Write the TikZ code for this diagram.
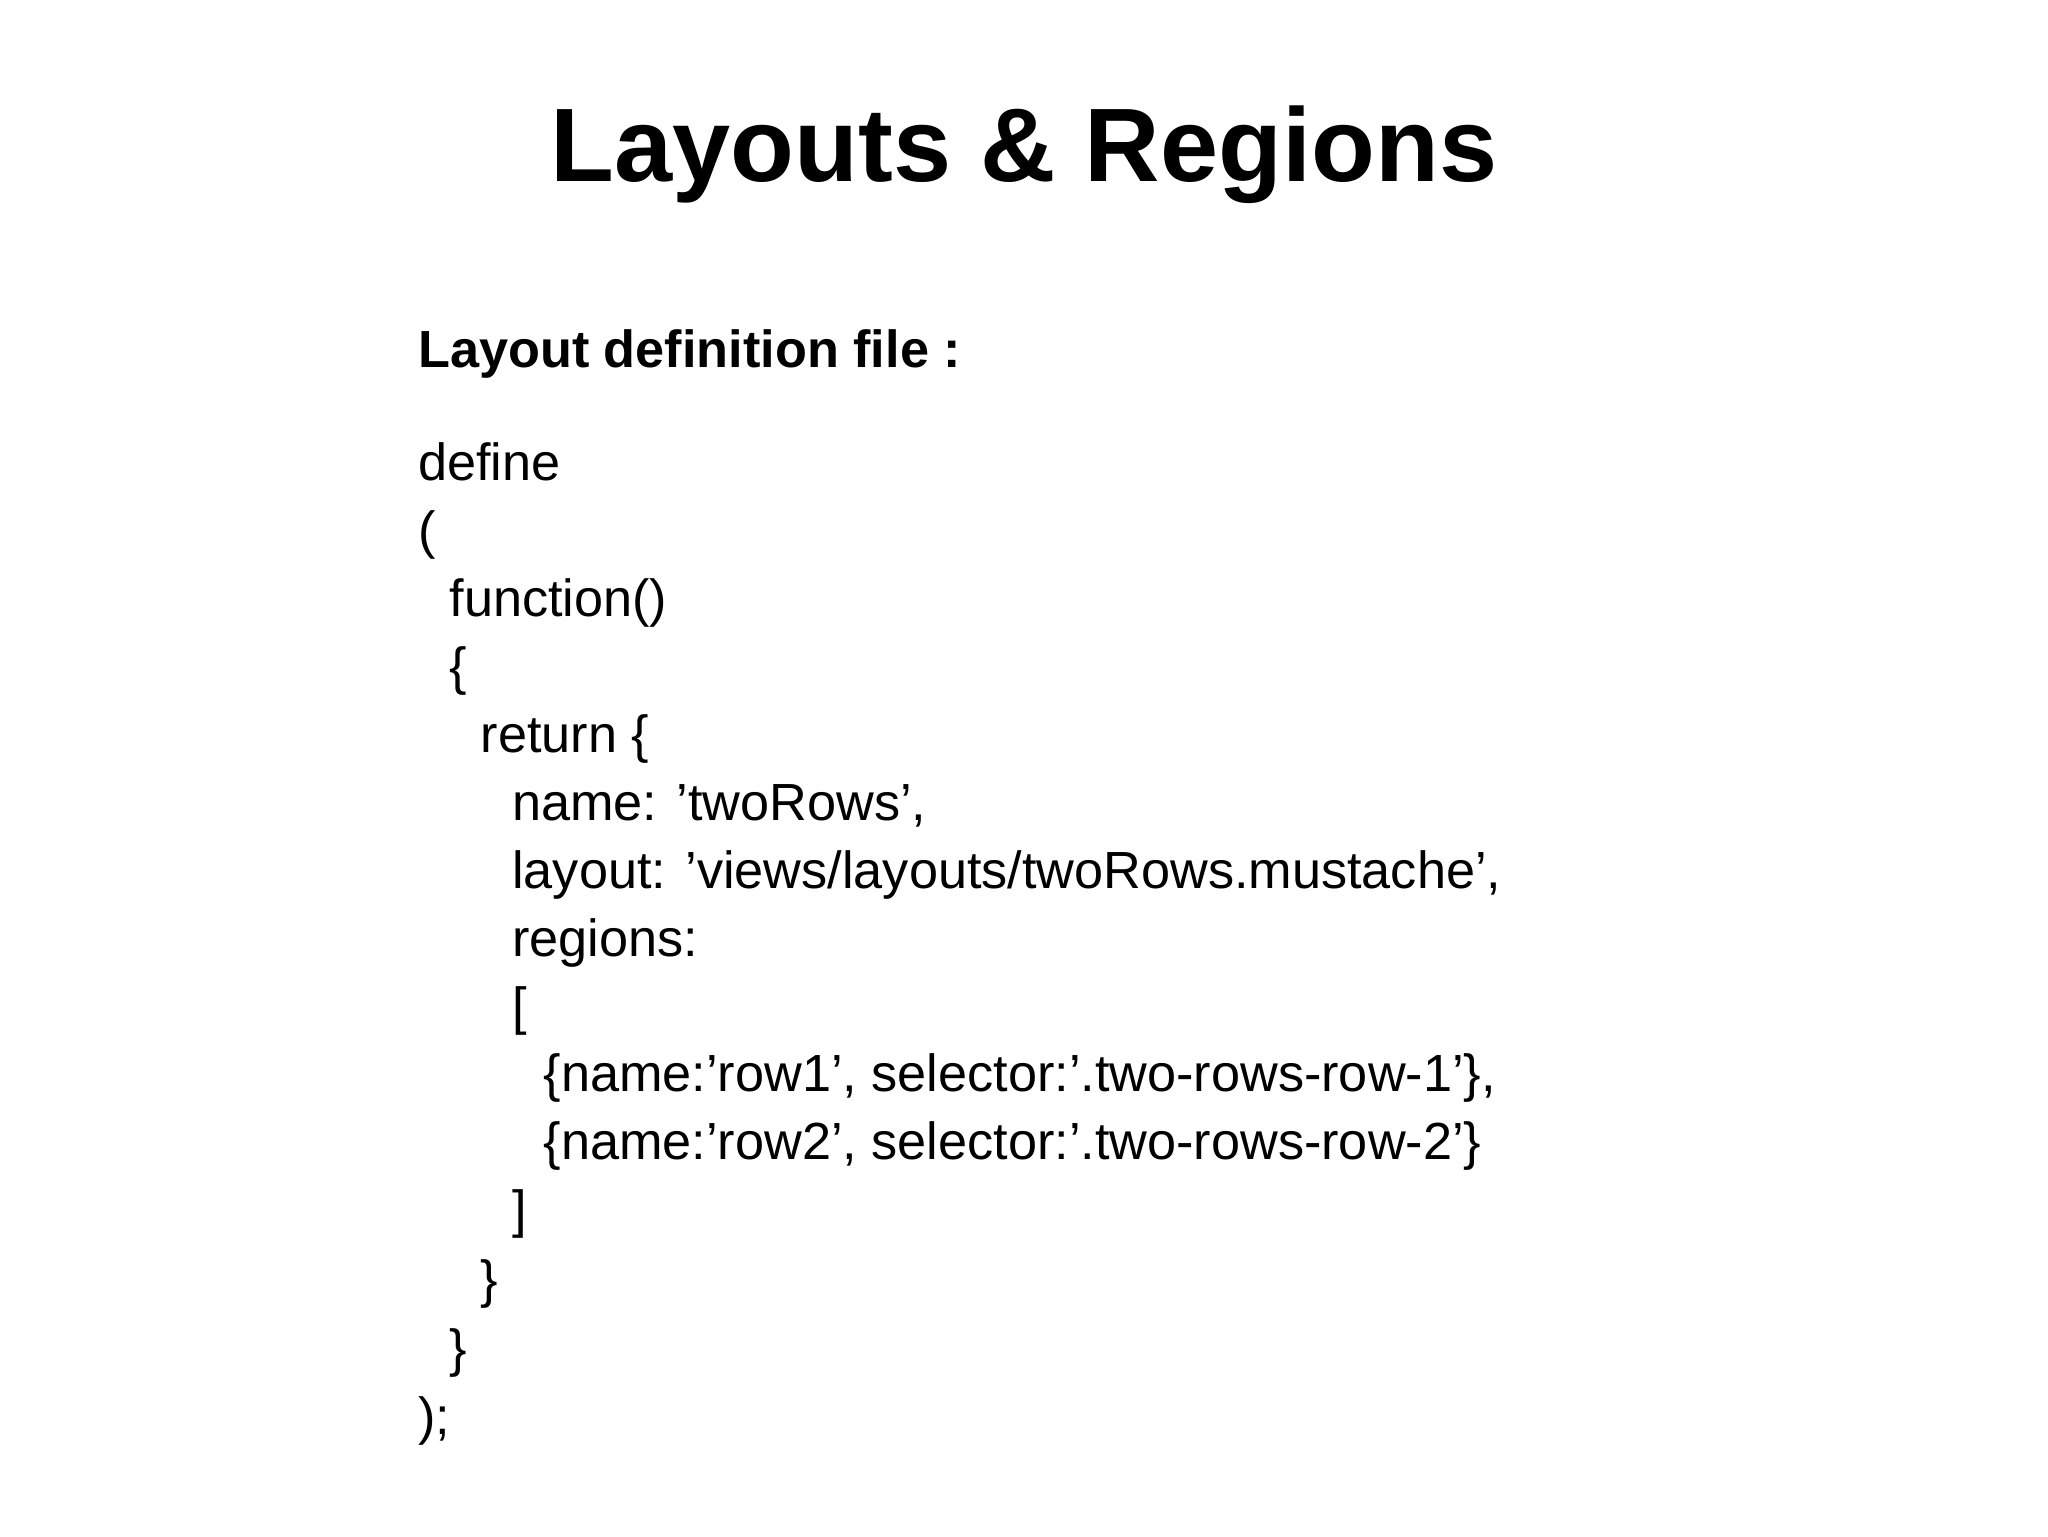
\documentclass[tikz,border=0pt]{standalone}
\usepackage{fontspec}
\setmainfont{Liberation Sans}
\begin{document}
\begin{tikzpicture}[x=1pt,y=-1pt,
  code/.style={anchor=base west,inner sep=0pt,font=\fontsize{40}{48}\selectfont}]
\useasboundingbox (0,0) rectangle (1568,1176);
\node[anchor=base,inner sep=0pt,font=\fontsize{80}{90}\selectfont\bfseries] (title) at (784,139) {Layouts \& Regions};
\node[code,font=\fontsize{40}{48}\selectfont\bfseries] (head) at (320,281) {Layout definition file :};
\def\ind{24}
\node[code] (l1) at (320,368) {define};
\node[code] (l2) at (320,420) {(};
\node[code] (l3) at (320+\ind,472) {function()};
\node[code] (l4) at (320+\ind,524) {\{};
\node[code] (l5) at (320+2*\ind,576) {return \{};
\node[code] (l6) at (320+3*\ind,628) {name: 'twoRows',};
\node[code] (l7) at (320+3*\ind,680) {layout: 'views/layouts/twoRows.mustache',};
\node[code] (l8) at (320+3*\ind,732) {regions:};
\node[code] (l9) at (320+3*\ind,784) {[};
\node[code] (l10) at (320+4*\ind,836) {\{name:'row1', selector:'.two-rows-row-1'\},};
\node[code] (l11) at (320+4*\ind,888) {\{name:'row2', selector:'.two-rows-row-2'\}};
\node[code] (l12) at (320+3*\ind,940) {]};
\node[code] (l13) at (320+2*\ind,993) {\}};
\node[code] (l14) at (320+\ind,1046) {\}};
\node[code] (l15) at (320,1098) {);};
\end{tikzpicture}
\end{document}
